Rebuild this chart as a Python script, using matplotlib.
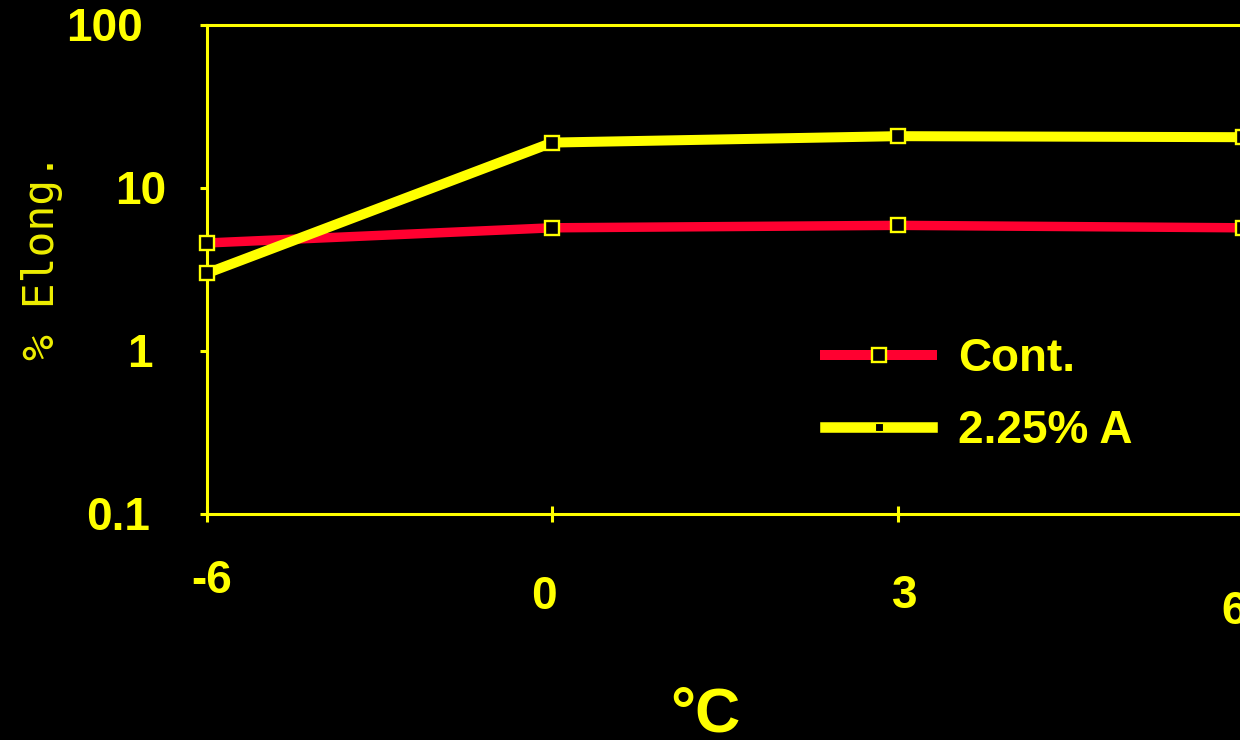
import matplotlib
matplotlib.use('Agg')
import matplotlib.pyplot as plt
from matplotlib import font_manager
from matplotlib.lines import Line2D
from matplotlib.ticker import NullLocator

plt.rcParams['font.family'] = ['Liberation Sans', 'DejaVu Sans']

# data
temps = ['-6', '0', '3', '6']
cont = [4.6, 5.7, 5.9, 5.7]
alloy = [3.0, 19.0, 20.8, 20.5]
y_ticks = [0.1, 1, 10, 100]
y_tick_labels = ['0.1', '1', '10', '100']
series_names = ['Cont.', '2.25% A']

YEL = '#ffff00'
RED = '#ff0030'

# label nudges (px) to copy the slightly uneven placement in the original
y_lab_gap = [57, 54, 41, 64]
x_lab_dx = [5, -8, 7, -9]
x_lab_drop = [79, 95, 94, 110]

fig = plt.figure(figsize=(12.4, 7.4), dpi=100, facecolor='black')
ax = fig.add_axes([0.1669, 0.3054, 0.8355, 0.6608])
ax.set_facecolor('black')

x = list(range(len(temps)))
mk = dict(marker='s', ms=10, mfc='black', mec=YEL, mew=1.7, clip_on=False)
ax.plot(x, cont, color=RED, lw=6.8, zorder=3, solid_capstyle='round', **mk)
ax.plot(x, alloy, color=YEL, lw=7.2, zorder=4, **mk)

ax.set_yscale('log')
ax.set_ylim(0.1, 100)
ax.set_xlim(0, len(temps) - 1)
ax.set_yticks(y_ticks)
ax.set_yticklabels([])
ax.yaxis.set_minor_locator(NullLocator())
ax.set_xticks(x)
ax.set_xticklabels([])
ax.tick_params(axis='y', direction='out', length=5, width=2.2, color=YEL)
ax.tick_params(axis='x', direction='inout', length=11.5, width=2.2, color=YEL)
for s in ['left', 'bottom', 'top']:
    ax.spines[s].set_color(YEL)
    ax.spines[s].set_linewidth(2.2)
ax.spines['right'].set_visible(False)

bold = dict(color=YEL, fontsize=33, fontweight='bold')

# y tick labels
for v, lbl, gap in zip(y_ticks, y_tick_labels, y_lab_gap):
    ax.annotate(lbl, xy=(0, v), xycoords=('axes fraction', 'data'),
                xytext=(-gap * 0.72, -16 * 0.72), textcoords='offset points',
                ha='right', va='baseline', annotation_clip=False, **bold)

# x tick labels, staggered
for xi, lbl, dx, dy in zip(x, temps, x_lab_dx, x_lab_drop):
    ax.annotate(lbl, xy=(xi, 0), xycoords=('data', 'axes fraction'),
                xytext=(dx * 0.72, -dy * 0.72), textcoords='offset points',
                ha='center', va='baseline', annotation_clip=False, **bold)

fig.text(705 / 1240, 1 - 732 / 740, '°C', ha='center', va='baseline',
         color=YEL, fontsize=45, fontweight='bold')

# y label in a narrow plain font
try:
    font_manager.findfont('Liberation Sans Narrow', fallback_to_default=False)
    yl_font, yl_size = 'Liberation Sans Narrow', 44
except Exception:
    yl_font, yl_size = 'DejaVu Sans Mono', 31
fig.text(42 / 1240, 1 - 256 / 740, '% Elong.', rotation=90, ha='center',
         va='center', color='#eeee00', fontsize=yl_size, family=yl_font)

handles = [
    Line2D([], [], color=RED, lw=7.2, marker='s', ms=10, mfc='black', mec=YEL, mew=1.7),
    Line2D([], [], color=YEL, lw=7.6, marker='s', ms=5.5, mfc='black', mec=YEL, mew=0.8),
]
ax.legend(handles, series_names, loc='center left',
          bbox_to_anchor=(825 / 1240, 1 - 395 / 740), bbox_transform=fig.transFigure,
          frameon=False, handlelength=2.34, handletextpad=0.57, borderpad=0,
          borderaxespad=0, labelspacing=0.63, labelcolor=YEL,
          prop=dict(family='Liberation Sans', weight='bold', size=33))

fig.savefig('out.png', dpi=100, facecolor='black')
